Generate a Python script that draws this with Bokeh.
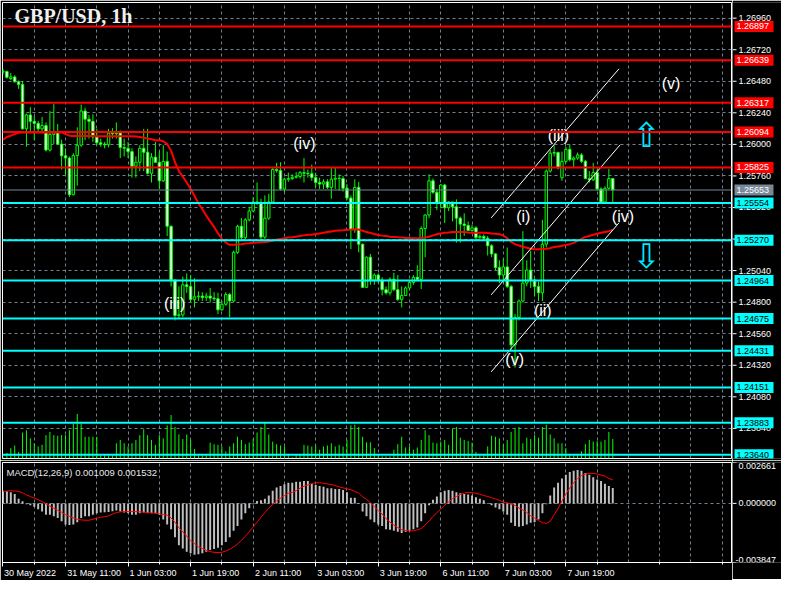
from bokeh.plotting import figure
from bokeh.models import Range1d, FixedTicker, Span, Label, Grid, LinearAxis
from bokeh.layouts import column, row
from bokeh.embed import file_html
from bokeh.resources import INLINE
from bokeh.core.properties import value

# ---------------- data (GBP/USD H1) ----------------
opens = [
1.26550, 1.26555, 1.26500, 1.26513, 1.26476, 1.26456, 1.26118, 1.26224, 1.26175, 1.26160,
1.26118, 1.26143, 1.25957, 1.26076, 1.26093, 1.26002, 1.25913, 1.25896, 1.25617, 1.25915,
1.25994, 1.26254, 1.26192, 1.26175, 1.26056, 1.26012, 1.26002, 1.25997, 1.26086, 1.26081,
1.26086, 1.25977, 1.25970, 1.25945, 1.25834, 1.25864, 1.25970, 1.25940, 1.25780, 1.25903,
1.25864, 1.25723, 1.25871, 1.25377, 1.24969, 1.24698, 1.24703, 1.24932, 1.24920, 1.24821,
1.24841, 1.24846, 1.24836, 1.24846, 1.24831, 1.24826, 1.24742, 1.24784, 1.24858, 1.24809,
1.25179, 1.25377, 1.25291, 1.25426, 1.25493, 1.25562, 1.25550, 1.25295, 1.25439, 1.25562,
1.25809, 1.25802, 1.25661, 1.25735, 1.25740, 1.25750, 1.25755, 1.25785, 1.25780, 1.25777,
1.25747, 1.25710, 1.25698, 1.25715, 1.25673, 1.25735, 1.25742, 1.25740, 1.25666, 1.25592,
1.25352, 1.25673, 1.25241, 1.24913, 1.25142, 1.24969, 1.25006, 1.24969, 1.24895, 1.24871,
1.24974, 1.24895, 1.24821, 1.24851, 1.24908, 1.24950, 1.24989, 1.24974, 1.25360, 1.25463,
1.25723, 1.25636, 1.25550, 1.25691, 1.25518, 1.25562, 1.25525, 1.25439, 1.25394, 1.25384,
1.25345, 1.25365, 1.25291, 1.25300, 1.25286, 1.25229, 1.25167, 1.25063, 1.25006, 1.25068,
1.24920, 1.24475, 1.24685, 1.24809, 1.24945, 1.25044, 1.24969, 1.24920, 1.24871, 1.25241,
1.25797, 1.25933, 1.25938, 1.25747, 1.25871, 1.25962, 1.25883, 1.25896, 1.25920, 1.25871,
1.25740, 1.25730, 1.25785, 1.25661, 1.25562, 1.25666, 1.25740]

highs = [
1.26575, 1.26560, 1.26543, 1.26525, 1.26486, 1.26481, 1.26234, 1.26283, 1.26217, 1.26180,
1.26209, 1.26167, 1.26254, 1.26308, 1.26155, 1.26036, 1.25970, 1.25908, 1.25933, 1.26130,
1.26303, 1.26279, 1.26224, 1.26229, 1.26118, 1.26044, 1.26019, 1.26118, 1.26123, 1.26167,
1.26106, 1.26044, 1.26019, 1.25970, 1.25908, 1.25994, 1.26118, 1.26118, 1.25933, 1.26019,
1.25945, 1.25994, 1.25945, 1.25384, 1.24969, 1.24920, 1.24994, 1.25019, 1.25006, 1.24982,
1.24883, 1.24876, 1.24871, 1.24908, 1.24876, 1.24871, 1.24809, 1.24876, 1.24871, 1.25192,
1.25389, 1.25439, 1.25439, 1.25525, 1.25599, 1.25710, 1.25587, 1.25612, 1.25624, 1.25822,
1.25859, 1.25864, 1.25747, 1.25785, 1.25772, 1.25789, 1.25797, 1.25896, 1.25809, 1.25846,
1.25785, 1.25747, 1.25735, 1.25735, 1.25822, 1.25822, 1.25772, 1.25760, 1.25698, 1.25612,
1.25735, 1.25715, 1.25246, 1.25147, 1.25167, 1.25019, 1.25019, 1.24989, 1.24920, 1.24989,
1.25024, 1.25006, 1.24920, 1.24920, 1.24969, 1.25006, 1.25081, 1.25377, 1.25468, 1.25772,
1.25740, 1.25661, 1.25698, 1.25698, 1.25567, 1.25562, 1.25582, 1.25451, 1.25476, 1.25414,
1.25389, 1.25377, 1.25315, 1.25315, 1.25303, 1.25241, 1.25172, 1.25118, 1.25130, 1.25216,
1.24932, 1.24710, 1.24821, 1.25340, 1.25118, 1.25192, 1.24982, 1.24957, 1.25426, 1.25809,
1.25957, 1.25994, 1.25945, 1.25945, 1.25982, 1.26002, 1.25908, 1.25938, 1.25933, 1.25883,
1.25797, 1.25859, 1.25809, 1.25673, 1.25681, 1.25814, 1.25740]

lows = [
1.26530, 1.26500, 1.26488, 1.26471, 1.26422, 1.26111, 1.25982, 1.26093, 1.26032, 1.26086,
1.26093, 1.25945, 1.25945, 1.26002, 1.25994, 1.25809, 1.25772, 1.25599, 1.25612, 1.25686,
1.25982, 1.26032, 1.26044, 1.26019, 1.25994, 1.25982, 1.25970, 1.25977, 1.26044, 1.26044,
1.25896, 1.25908, 1.25896, 1.25747, 1.25747, 1.25797, 1.25797, 1.25772, 1.25710, 1.25859,
1.25661, 1.25715, 1.25303, 1.24920, 1.24661, 1.24673, 1.24685, 1.24871, 1.24797, 1.24760,
1.24809, 1.24809, 1.24809, 1.24797, 1.24809, 1.24710, 1.24735, 1.24772, 1.24685, 1.24801,
1.25167, 1.25266, 1.25278, 1.25414, 1.25488, 1.25538, 1.25278, 1.25278, 1.25426, 1.25550,
1.25785, 1.25649, 1.25636, 1.25715, 1.25730, 1.25740, 1.25740, 1.25710, 1.25747, 1.25723,
1.25673, 1.25661, 1.25661, 1.25661, 1.25587, 1.25661, 1.25649, 1.25641, 1.25575, 1.25204,
1.25328, 1.25179, 1.24908, 1.24908, 1.24932, 1.24932, 1.24945, 1.24851, 1.24858, 1.24851,
1.24883, 1.24809, 1.24760, 1.24846, 1.24890, 1.24932, 1.24957, 1.24900, 1.25142, 1.25439,
1.25624, 1.25500, 1.25513, 1.25402, 1.25493, 1.25414, 1.25253, 1.25253, 1.25303, 1.25340,
1.25335, 1.25266, 1.25278, 1.25278, 1.25155, 1.25142, 1.25044, 1.24945, 1.24945, 1.24908,
1.24438, 1.24303, 1.24661, 1.24797, 1.24920, 1.24908, 1.24846, 1.24809, 1.24809, 1.25216,
1.25785, 1.25908, 1.25809, 1.25723, 1.25859, 1.25871, 1.25822, 1.25883, 1.25859, 1.25735,
1.25710, 1.25723, 1.25649, 1.25557, 1.25557, 1.25656, 1.25562]

closes = [
1.26555, 1.26510, 1.26513, 1.26476, 1.26456, 1.26118, 1.26224, 1.26175, 1.26160, 1.26118,
1.26143, 1.25957, 1.26076, 1.26093, 1.26002, 1.25913, 1.25896, 1.25617, 1.25915, 1.25994,
1.26254, 1.26192, 1.26175, 1.26056, 1.26012, 1.26002, 1.25997, 1.26086, 1.26081, 1.26086,
1.25977, 1.25970, 1.25945, 1.25834, 1.25864, 1.25970, 1.25940, 1.25780, 1.25903, 1.25864,
1.25723, 1.25871, 1.25377, 1.24969, 1.24698, 1.24703, 1.24932, 1.24920, 1.24821, 1.24841,
1.24846, 1.24836, 1.24846, 1.24831, 1.24826, 1.24742, 1.24784, 1.24858, 1.24809, 1.25179,
1.25377, 1.25291, 1.25426, 1.25493, 1.25562, 1.25550, 1.25295, 1.25439, 1.25562, 1.25809,
1.25802, 1.25661, 1.25735, 1.25740, 1.25750, 1.25755, 1.25785, 1.25780, 1.25777, 1.25747,
1.25710, 1.25698, 1.25715, 1.25673, 1.25735, 1.25742, 1.25740, 1.25666, 1.25592, 1.25352,
1.25673, 1.25241, 1.24913, 1.25142, 1.24969, 1.25006, 1.24969, 1.24895, 1.24871, 1.24974,
1.24895, 1.24821, 1.24851, 1.24908, 1.24950, 1.24989, 1.24974, 1.25360, 1.25463, 1.25723,
1.25636, 1.25550, 1.25691, 1.25518, 1.25562, 1.25525, 1.25439, 1.25394, 1.25384, 1.25345,
1.25365, 1.25291, 1.25300, 1.25286, 1.25229, 1.25167, 1.25063, 1.25006, 1.25068, 1.24920,
1.24475, 1.24685, 1.24809, 1.24945, 1.25044, 1.24969, 1.24920, 1.24871, 1.25241, 1.25797,
1.25933, 1.25938, 1.25822, 1.25871, 1.25962, 1.25883, 1.25896, 1.25920, 1.25871, 1.25740,
1.25730, 1.25785, 1.25661, 1.25562, 1.25666, 1.25740, 1.25653]

volumes = [
160, 680, 1280, 1600, 800, 3200, 3480, 2480, 1880, 1480,
1680, 2880, 3280, 2880, 2800, 2880, 2880, 3480, 4280, 5480,
4280, 2680, 2680, 2680, 2680, 400, 400, 400, 400, 1880,
2280, 1880, 1480, 1880, 2280, 2880, 3600, 2880, 2280, 1680,
2880, 2480, 4080, 5360, 3880, 2960, 2400, 2960, 2280, 1160,
400, 400, 400, 1960, 1760, 1680, 1480, 880, 1480, 1880,
2680, 2280, 1760, 1960, 2400, 3200, 3880, 4400, 2960, 2080,
1760, 1600, 1480, 560, 160, 400, 480, 1680, 1600, 1480,
1600, 1080, 1480, 1600, 1880, 1480, 1680, 1480, 2280, 4080,
4160, 3880, 2680, 2000, 2000, 1280, 480, 280, 280, 280,
1080, 1760, 2680, 1360, 1480, 1080, 1360, 2280, 3480, 2880,
1960, 1880, 2080, 2280, 1680, 3680, 3880, 2560, 2280, 2160,
1960, 800, 480, 480, 1480, 2800, 2680, 2480, 1680, 2280,
3280, 3680, 3880, 1880, 2560, 2400, 2880, 2560, 3880, 4160,
2960, 2480, 1880, 1880, 1280, 480, 400, 480, 880, 1760,
2280, 2080, 2160, 2080, 2280, 3280, 2400]

moving_avg = [
1.26036, 1.26056, 1.26066, 1.26078, 1.26088, 1.26091, 1.26091, 1.26091, 1.26091, 1.26091,
1.26091, 1.26091, 1.26091, 1.26091, 1.26091, 1.26091, 1.26078, 1.26066, 1.26064, 1.26064,
1.26064, 1.26064, 1.26063, 1.26063, 1.26062, 1.26062, 1.26062, 1.26061, 1.26061, 1.26061,
1.26061, 1.26061, 1.26061, 1.26061, 1.26059, 1.26056, 1.26051, 1.26044, 1.26039, 1.26032,
1.26032, 1.26024, 1.26002, 1.25952, 1.25864, 1.25797, 1.25755, 1.25710, 1.25661, 1.25607,
1.25550, 1.25508, 1.25458, 1.25414, 1.25372, 1.25323, 1.25283, 1.25253, 1.25236, 1.25236,
1.25239, 1.25241, 1.25246, 1.25248, 1.25251, 1.25253, 1.25256, 1.25258, 1.25261, 1.25266,
1.25276, 1.25281, 1.25286, 1.25291, 1.25293, 1.25298, 1.25303, 1.25308, 1.25313, 1.25313,
1.25318, 1.25323, 1.25328, 1.25333, 1.25338, 1.25343, 1.25345, 1.25347, 1.25350, 1.25352,
1.25355, 1.25352, 1.25343, 1.25333, 1.25326, 1.25318, 1.25311, 1.25306, 1.25303, 1.25298,
1.25296, 1.25293, 1.25291, 1.25288, 1.25288, 1.25286, 1.25286, 1.25288, 1.25291, 1.25298,
1.25308, 1.25316, 1.25323, 1.25328, 1.25330, 1.25333, 1.25333, 1.25333, 1.25333, 1.25330,
1.25328, 1.25328, 1.25328, 1.25328, 1.25326, 1.25323, 1.25321, 1.25316, 1.25306, 1.25286,
1.25258, 1.25241, 1.25231, 1.25221, 1.25214, 1.25207, 1.25202, 1.25202, 1.25204, 1.25207,
1.25211, 1.25219, 1.25224, 1.25229, 1.25234, 1.25241, 1.25251, 1.25266, 1.25281, 1.25296,
1.25303, 1.25313, 1.25321, 1.25328, 1.25333, 1.25340, 1.25350]

macd_main = [
0.000824, 0.000783, 0.000720, 0.000616, 0.000303, 0.000136, -0.000052, -0.000115, -0.000219, -0.000386,
-0.000532, -0.000741, -0.000741, -0.000845, -0.000950, -0.001158, -0.001367, -0.001409, -0.001367, -0.001221,
-0.000950, -0.000845, -0.000845, -0.000741, -0.000637, -0.000595, -0.000574, -0.000553, -0.000511, -0.000470,
-0.000532, -0.000595, -0.000637, -0.000741, -0.000741, -0.000637, -0.000595, -0.000637, -0.000637, -0.000637,
-0.000741, -0.001054, -0.001367, -0.001680, -0.002202, -0.002724, -0.002932, -0.003141, -0.003245, -0.003350,
-0.003308, -0.003245, -0.003141, -0.003037, -0.002974, -0.002890, -0.002724, -0.002515, -0.002202, -0.001784,
-0.001471, -0.001054, -0.000637, -0.000323, -0.000052, 0.000157, 0.000198, 0.000303, 0.000511, 0.000824,
0.001033, 0.001137, 0.001242, 0.001346, 0.001346, 0.001409, 0.001409, 0.001450, 0.001450, 0.001284,
0.001200, 0.001137, 0.001075, 0.000991, 0.000991, 0.000929, 0.000929, 0.000866, 0.000720, 0.000365,
0.000365, 0.000031, -0.000532, -0.000845, -0.001054, -0.001221, -0.001367, -0.001471, -0.001680, -0.001722,
-0.001784, -0.001847, -0.001930, -0.001847, -0.001784, -0.001680, -0.001576, -0.001158, -0.000637, -0.000115,
0.000240, 0.000449, 0.000720, 0.000824, 0.000866, 0.000824, 0.000720, 0.000657, 0.000616, 0.000574,
0.000511, 0.000407, 0.000303, 0.000198, 0.000031, -0.000115, -0.000261, -0.000386, -0.000532, -0.000741,
-0.001263, -0.001471, -0.001513, -0.001471, -0.001367, -0.001263, -0.001221, -0.001054, -0.000637, -0.000052,
0.000511, 0.001033, 0.001346, 0.001617, 0.001868, 0.002035, 0.002118, 0.002181, 0.002118, 0.001972,
0.001868, 0.001701, 0.001555, 0.001450, 0.001284, 0.001137, 0.001009]

macd_signal = [
0.000783, 0.000803, 0.000824, 0.000803, 0.000783, 0.000699, 0.000553, 0.000449, 0.000344, 0.000240,
0.000115, -0.000031, -0.000177, -0.000323, -0.000449, -0.000574, -0.000741, -0.000845, -0.000950, -0.001033,
-0.001075, -0.001096, -0.001096, -0.001033, -0.000970, -0.000908, -0.000866, -0.000824, -0.000699, -0.000595,
-0.000553, -0.000532, -0.000532, -0.000532, -0.000532, -0.000553, -0.000574, -0.000595, -0.000616, -0.000637,
-0.000678, -0.000720, -0.000762, -0.000950, -0.001221, -0.001576, -0.001847, -0.002139, -0.002410, -0.002619,
-0.002828, -0.002932, -0.003057, -0.003141, -0.003183, -0.003204, -0.003183, -0.003099, -0.002995, -0.002828,
-0.002640, -0.002410, -0.002139, -0.001847, -0.001534, -0.001221, -0.000908, -0.000595, -0.000323, -0.000052,
0.000157, 0.000344, 0.000511, 0.000657, 0.000720, 0.000824, 0.000991, 0.001117, 0.001200, 0.001284,
0.001346, 0.001346, 0.001304, 0.001263, 0.001221, 0.001158, 0.001075, 0.001012, 0.000950, 0.000887,
0.000783, 0.000678, 0.000428, 0.000261, 0.000052, -0.000219, -0.000470, -0.000699, -0.000991, -0.001221,
-0.001409, -0.001576, -0.001701, -0.001764, -0.001784, -0.001784, -0.001722, -0.001638, -0.001409, -0.001158,
-0.000845, -0.000616, -0.000365, -0.000115, 0.000094, 0.000303, 0.000449, 0.000574, 0.000678, 0.000720,
0.000699, 0.000657, 0.000595, 0.000511, 0.000449, 0.000365, 0.000282, 0.000198, 0.000094, 0.000031,
-0.000052, -0.000136, -0.000303, -0.000428, -0.000595, -0.000803, -0.000950, -0.001117, -0.001263, -0.001304,
-0.001158, -0.000741, -0.000323, 0.000157, 0.000616, 0.000991, 0.001346, 0.001617, 0.001805, 0.001910,
0.001951, 0.001951, 0.001910, 0.001847, 0.001784, 0.001620, 0.001532]

time_ticks = [0, 16, 32, 48, 64, 80, 96, 112, 128, 144]
time_labels = ["30 May 2022", "31 May 11:00", "1 Jun 03:00", "1 Jun 19:00", "2 Jun 11:00",
               "3 Jun 03:00", "3 Jun 19:00", "6 Jun 11:00", "7 Jun 03:00", "7 Jun 19:00"]
price_ticks = [1.26960, 1.26720, 1.26480, 1.26240, 1.26000, 1.25760, 1.25520,
               1.25280, 1.25040, 1.24800, 1.24560, 1.24320, 1.24080, 1.23840]
red_levels = [1.26897, 1.26639, 1.26317, 1.26094, 1.25825]
cyan_levels = [1.25554, 1.25270, 1.24964, 1.24675, 1.24431, 1.24151, 1.23883, 1.23640]
bid_price = 1.25653
macd_scale = [0.002661, 0.0, -0.003847]

wave_text = ["(iii)", "(iv)", "(v)", "(i)", "(ii)", "(iii)", "(iv)", "(v)"]
wave_bar = [43.9, 77.1, 130.9, 133.1, 138.1, 142.1, 158.6, 170.9]
wave_price = [1.24789, 1.26004, 1.24367, 1.25448, 1.24737, 1.26071, 1.25448, 1.26464]

channel_bar0 = [124.9, 124.9, 124.9]
channel_price0 = [1.25441, 1.24856, 1.24270]
channel_bar1 = [157.6, 157.9, 157.6]
channel_price1 = [1.26575, 1.25997, 1.25404]

arrow_text = ["\u21e7", "\u21e9"]
arrow_bar = [164.6, 164.6]
arrow_price = [1.26071, 1.25152]

# ---------------- layout constants ----------------
FRAME_W = 729
SCALE_W = 49
MAIN_H = 456
MACD_H = 100
BOTTOM = 17
X_START, X_END = -0.125, 186.375
GRID_C = "#708090"
FONT = "Liberation Sans"
LIME = "#00ff00"
# shift (in bars) of each time label's centre so that its text starts at its tick
label_shift = [6.9, 7.3, 6.4, 6.4, 6.4, 6.4, 6.4, 6.4, 6.4, 6.4]

N = len(closes)
bars = list(range(N))
grid_x = list(range(8, 187, 8))
minor_x = list(range(8, 187, 16))

x_range = Range1d(X_START, X_END)
main_y = Range1d(1.23611, 1.27079)
macd_y = Range1d(macd_scale[2], macd_scale[0])

COMMON = dict(output_backend="svg", toolbar_location=None,
              background_fill_color="black", border_fill_color="black")

# ---------------- main price window ----------------
p = figure(frame_width=FRAME_W, frame_height=MAIN_H, x_range=x_range, y_range=main_y,
           x_axis_location=None, y_axis_location=None,
           min_border_left=2, min_border_right=1, min_border_top=2, min_border_bottom=2,
           outline_line_color="white", **COMMON)
p.grid.visible = False
p.add_layout(Grid(dimension=0, ticker=FixedTicker(ticks=grid_x), grid_line_color=GRID_C,
                  grid_line_dash="3 3", grid_line_width=1))
p.add_layout(Grid(dimension=1, ticker=FixedTicker(ticks=price_ticks), grid_line_color=GRID_C,
                  grid_line_dash="3 3", grid_line_width=1))

# volumes
p.extra_y_ranges = {"vol": Range1d(0, 56160)}
p.segment(x0=bars, y0=[0] * N, x1=bars, y1=volumes, y_range_name="vol",
          line_color=LIME, line_width=1)

# levels
for lv in red_levels:
    p.add_layout(Span(location=lv, dimension="width", line_color="#ff0000", line_width=2))
for lv in cyan_levels:
    p.add_layout(Span(location=lv, dimension="width", line_color="#00ffff", line_width=2))
p.add_layout(Span(location=bid_price, dimension="width", line_color="#778899", line_width=1))

# candles
tops = [max(o, c) for o, c in zip(opens, closes)]
bottoms = [min(o, c) for o, c in zip(opens, closes)]
fills = ["black" if c >= o else "white" for o, c in zip(opens, closes)]
p.segment(x0=bars, y0=lows, x1=bars, y1=highs, line_color=LIME, line_width=1)
p.vbar(x=bars, width=0.62, top=tops, bottom=bottoms, fill_color=fills,
       line_color=LIME, line_width=1)

# moving average
p.line(bars, moving_avg, line_color="#ff0000", line_width=2)

# channel
p.segment(x0=channel_bar0, y0=channel_price0, x1=channel_bar1, y1=channel_price1,
          line_color="white", line_width=1)

# wave labels
p.text(x=wave_bar, y=wave_price, text=wave_text, text_color="white",
       text_font=value(FONT), text_font_size=value("16px"),
       text_align="center", text_baseline="middle")

# arrows
p.text(x=arrow_bar, y=arrow_price, text=arrow_text, text_color="#00e8ff",
       text_font=value("DejaVu Sans"), text_font_size=value("34px"),
       text_align="center", text_baseline="middle")

# title
p.add_layout(Label(x=X_START, y=main_y.end, x_offset=12, y_offset=-2, text="GBP/USD, 1h",
                   text_font="Liberation Serif", text_font_style="bold",
                   text_font_size="20px", text_color="#f0f0f0", text_baseline="top"))

# ---------------- price scale column ----------------
sp = figure(frame_width=SCALE_W, frame_height=MAIN_H, x_range=Range1d(0, SCALE_W), y_range=main_y,
            x_axis_location=None, y_axis_location=None,
            min_border_left=0, min_border_right=0, min_border_top=2, min_border_bottom=2,
            outline_line_color=None, **COMMON)
sp.grid.visible = False
sp.segment(x0=[0] * len(price_ticks), y0=price_ticks, x1=[4] * len(price_ticks), y1=price_ticks,
           line_color="white", line_width=1)
sp.text(x=[6] * len(price_ticks), y=price_ticks, text=[f"{t:.5f}" for t in price_ticks],
        text_color="white", text_font=value(FONT), text_font_size=value("9px"),
        text_align="left", text_baseline="middle")

tag_levels = red_levels + cyan_levels + [bid_price]
tag_fill = ["#ff0000"] * len(red_levels) + ["#00ffff"] * len(cyan_levels) + ["#778899"]
tag_text_c = ["white"] * len(red_levels) + ["black"] * len(cyan_levels) + ["white"]
sp.rect(x=[21.5] * len(tag_levels), y=tag_levels, width=39, height=11, height_units="screen",
        fill_color=tag_fill, line_color=None)
sp.text(x=[4] * len(tag_levels), y=tag_levels, text=[f"{lv:.5f}" for lv in tag_levels],
        text_color=tag_text_c, text_font=value(FONT), text_font_size=value("9px"),
        text_align="left", text_baseline="middle")

# ---------------- MACD window ----------------
m = figure(frame_width=FRAME_W, frame_height=MACD_H, x_range=x_range, y_range=macd_y,
           y_axis_location=None,
           min_border_left=2, min_border_right=1, min_border_top=2, min_border_bottom=BOTTOM,
           outline_line_color="white", **COMMON)
m.grid.visible = False
m.add_layout(Grid(dimension=0, ticker=FixedTicker(ticks=grid_x), grid_line_color=GRID_C,
                  grid_line_dash="3 3", grid_line_width=1))
m.add_layout(Grid(dimension=1, ticker=FixedTicker(ticks=[0.0]), grid_line_color=GRID_C,
                  grid_line_dash="3 3", grid_line_width=1))

m.vbar(x=bars, width=0.5, top=macd_main, bottom=0, fill_color="#c0c0c0", line_color=None)
m.line(bars, macd_signal, line_color="#ff0000", line_width=1)

m.add_layout(Label(x=X_START, y=macd_scale[0], x_offset=4, y_offset=-4,
                   text=f"MACD(12,26,9) {macd_main[-1]:.6f} {macd_signal[-1]:.6f}",
                   text_baseline="top", text_font=FONT, text_font_size="9.5px",
                   text_color="#e8e8e8"))

# time axis: tick marks on the first axis (its labels are not painted),
# left-aligned labels on a second one
xax = m.xaxis[0]
xax.ticker = FixedTicker(ticks=time_ticks, minor_ticks=minor_x)
xax.major_label_text_font_size = "1px"
xax.major_label_text_color = None
xax.major_label_standoff = 0
xax.axis_line_color = "white"
xax.major_tick_line_color = "white"
xax.minor_tick_line_color = "white"
xax.major_tick_in = 0
xax.major_tick_out = 4
xax.minor_tick_in = 0
xax.minor_tick_out = 2

label_pos = [t + s for t, s in zip(time_ticks, label_shift)]
lab_ax = LinearAxis(ticker=FixedTicker(ticks=label_pos),
                    major_label_overrides={lp: s for lp, s in zip(label_pos, time_labels)},
                    axis_line_color=None, major_tick_line_color=None, minor_tick_line_color=None,
                    major_tick_in=0, major_tick_out=0, minor_tick_in=0, minor_tick_out=0,
                    major_label_standoff=1, major_label_text_color="white",
                    major_label_text_font=FONT, major_label_text_font_size="9px")
m.add_layout(lab_ax, "below")

# ---------------- MACD scale column ----------------
sm = figure(frame_width=SCALE_W, frame_height=MACD_H, x_range=Range1d(0, SCALE_W), y_range=macd_y,
            x_axis_location=None, y_axis_location=None,
            min_border_left=0, min_border_right=0, min_border_top=2, min_border_bottom=BOTTOM,
            outline_line_color=None, **COMMON)
sm.grid.visible = False
sm.segment(x0=[0] * 3, y0=macd_scale, x1=[4] * 3, y1=macd_scale, line_color="white", line_width=1)
sm.text(x=[6], y=[macd_scale[0]], text=[f"{macd_scale[0]:.6f}"], text_color="white",
        text_font=value(FONT), text_font_size=value("9px"), text_align="left", text_baseline="top")
sm.text(x=[6], y=[macd_scale[1]], text=[f"{macd_scale[1]:.6f}"], text_color="white",
        text_font=value(FONT), text_font_size=value("9px"), text_align="left", text_baseline="middle")
sm.text(x=[3], y=[macd_scale[2]], text=[f"{macd_scale[2]:.6f}"], text_color="white",
        text_font=value(FONT), text_font_size=value("9px"), text_align="left", text_baseline="bottom")

layout = column(row(p, sp, spacing=0), row(m, sm, spacing=0), spacing=0)
open("out.html", "w").write(file_html(layout, INLINE))
